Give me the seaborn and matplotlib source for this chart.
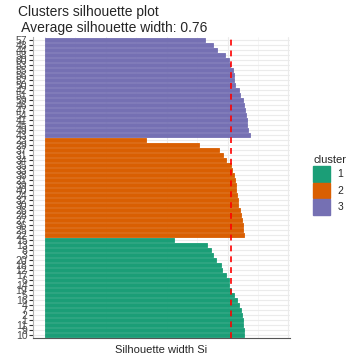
import matplotlib
matplotlib.use("Agg")
import matplotlib.pyplot as plt
import seaborn as sns
import pandas as pd
import numpy as np
from matplotlib.patches import Patch

# ---- data (bottom -> top within each cluster) ----
c1_names = ["10","9","11","1","2","7","4","16","5","19","14","6","17","12","18","20","3","8","13","15"]
c1_sil = [0.818,0.816,0.815,0.812,0.808,0.805,0.797,0.787,0.778,0.763,0.757,0.755,0.744,0.726,0.722,0.701,0.692,0.682,0.667,0.530]
c2_names = ["22","25","36","27","28","26","30","32","24","40","39","21","38","33","35","34","31","37","29","23"]
c2_sil = [0.818,0.815,0.812,0.809,0.807,0.803,0.795,0.791,0.789,0.786,0.783,0.781,0.775,0.770,0.764,0.744,0.733,0.716,0.634,0.414]
c3_names = ["43","49","45","41","54","47","46","59","51","42","50","52","56","55","53","60","58","44","48","57"]
c3_sil = [0.842,0.835,0.831,0.828,0.824,0.821,0.816,0.812,0.801,0.798,0.780,0.778,0.776,0.773,0.760,0.756,0.740,0.708,0.691,0.657]
clusters = ["1", "2", "3"]
colors = ["#1B9E77", "#D95F02", "#7570B3"]

df = pd.DataFrame({
    "name": c1_names + c2_names + c3_names,
    "sil": c1_sil + c2_sil + c3_sil,
    "cluster": ["1"] * len(c1_names) + ["2"] * len(c2_names) + ["3"] * len(c3_names),
})
avg = float(np.mean(df["sil"]))
# top -> bottom order
order = c3_names[::-1] + c2_names[::-1] + c1_names[::-1]

sns.set_style("white")
plt.rcParams["font.family"] = ["Liberation Sans", "DejaVu Sans"]

fig = plt.figure(figsize=(3.6, 3.6), dpi=100)
ax = fig.add_axes([33/360, 1-338/360, (290-33)/360, (338-37)/360])

sns.barplot(data=df, x="sil", y="name", hue="cluster", order=order,
            hue_order=clusters, palette=colors, dodge=False, orient="h",
            width=0.9, linewidth=0.6, saturation=1, legend=False, ax=ax, zorder=2)
for bar in ax.patches:
    bar.set_edgecolor(bar.get_facecolor())

ax.axvline(avg, color="#FF0000", linestyle=(0, (3.5, 3)), linewidth=1.2, zorder=3)

n = len(order)
ax.set_ylim(n - 1 + 0.6, -0.6)
ax.set_xlim(-0.0493, 1.0066)
ax.set_xticks([0, 0.25, 0.5, 0.75, 1.0])
ax.set_xticks([0.125, 0.375, 0.625, 0.875], minor=True)
ax.grid(True, which="major", axis="both", color="#EBEBEB", linewidth=0.8, zorder=0)
ax.grid(True, which="minor", axis="x", color="#F2F2F2", linewidth=0.5, zorder=0)
ax.set_axisbelow(True)
ax.tick_params(axis="x", which="both", bottom=False, labelbottom=False)
ax.tick_params(axis="y", left=True, length=3, width=0.8, color="#333333",
               labelsize=7.5, labelcolor="#4D4D4D", pad=1)
for s in ["top", "right"]:
    ax.spines[s].set_visible(False)
ax.spines["left"].set_color("#B0B0B0")
ax.spines["left"].set_linewidth(0.8)
ax.spines["bottom"].set_color("#555555")
ax.spines["bottom"].set_linewidth(0.8)
ax.set_ylabel("")
ax.set_xlabel("Silhouette width Si", fontsize=8, labelpad=5)

fig.text(18/360, 1-5/360, "Clusters silhouette plot \n Average silhouette width: %.2f" % avg,
         fontsize=10, ha="left", va="top", linespacing=1.2)

handles = [Patch(facecolor=c, edgecolor=c, label=l) for c, l in zip(colors, clusters)]
fig.legend(handles=handles, title="cluster", loc="upper left",
           bbox_to_anchor=(304/360, 1-146/360), frameon=False, fontsize=7.5,
           title_fontsize=8, handlelength=1.6, handleheight=1.9,
           labelspacing=0.1, handletextpad=0.7, alignment="left")

fig.savefig("out.png", dpi=100)
